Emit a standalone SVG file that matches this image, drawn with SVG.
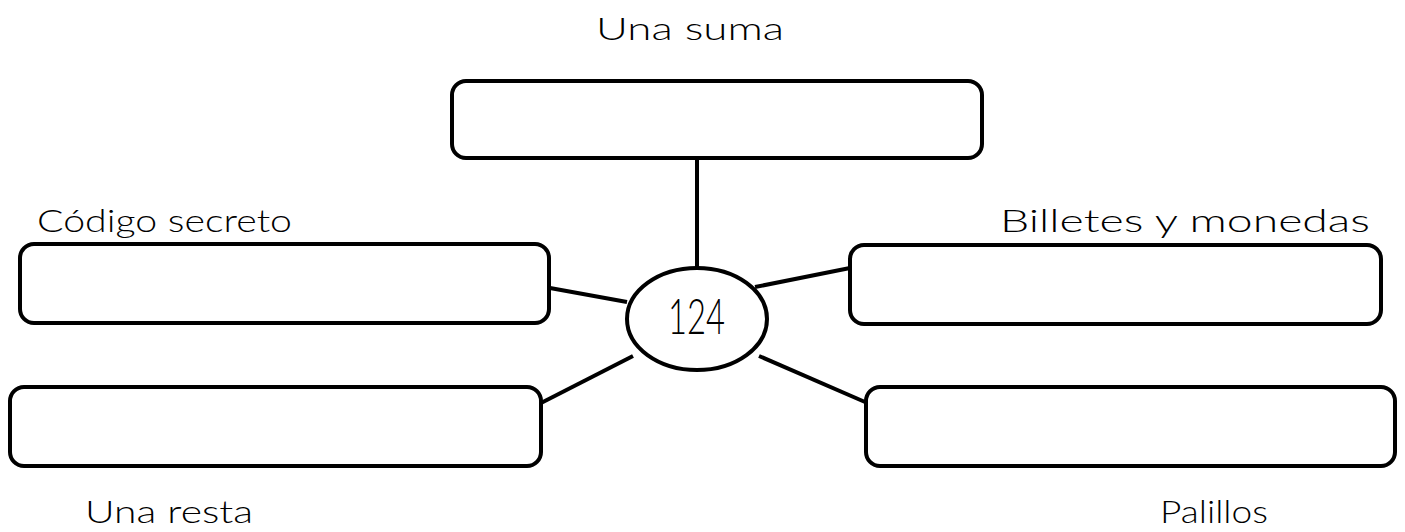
<svg xmlns="http://www.w3.org/2000/svg" width="1405" height="532" viewBox="0 0 1405 532">
<style>
.box{fill:#fff;stroke:#000;stroke-width:4}
.ln{stroke:#000;stroke-width:4;fill:none}
.lbl{font-family:Lato,"Open Sans","Liberation Sans",sans-serif;font-size:31px;fill:#000;font-weight:300}
.num{font-family:Lato,"Open Sans",sans-serif;font-size:50px;font-weight:300;fill:#000}
</style>
<rect width="1405" height="532" fill="#fff"/>
<g id="connectors">
<line class="ln" x1="697" y1="158" x2="697" y2="268"/>
<line class="ln" x1="550" y1="288" x2="627" y2="302"/>
<line class="ln" x1="755" y1="287" x2="850" y2="268"/>
<line class="ln" x1="541" y1="403" x2="633" y2="356"/>
<line class="ln" x1="759" y1="356" x2="865" y2="402"/>
</g>
<g id="node-suma">
<rect class="box" x="452" y="81" width="530" height="77" rx="14"/>
<text class="lbl" x="596" y="40" textLength="188" lengthAdjust="spacingAndGlyphs">Una suma</text>
</g>
<g id="node-codigo">
<rect class="box" x="20" y="244" width="529" height="79" rx="14"/>
<text class="lbl" x="37" y="232" textLength="255" lengthAdjust="spacingAndGlyphs">Código secreto</text>
</g>
<g id="node-billetes">
<rect class="box" x="850" y="245" width="531" height="79" rx="14"/>
<text class="lbl" x="1000" y="232" textLength="370" lengthAdjust="spacingAndGlyphs">Billetes y monedas</text>
</g>
<g id="node-resta">
<rect class="box" x="10" y="387" width="531" height="79" rx="14"/>
<text class="lbl" x="85" y="523" textLength="168" lengthAdjust="spacingAndGlyphs">Una resta</text>
</g>
<g id="node-palillos">
<rect class="box" x="866" y="387" width="529" height="79" rx="14"/>
<text class="lbl" x="1160" y="523" textLength="108" lengthAdjust="spacingAndGlyphs">Palillos</text>
</g>
<g id="node-center">
<ellipse class="box" cx="697" cy="319" rx="70" ry="51"/>
<text class="num" x="668" y="334" textLength="57" lengthAdjust="spacingAndGlyphs">124</text>
</g>
</svg>
